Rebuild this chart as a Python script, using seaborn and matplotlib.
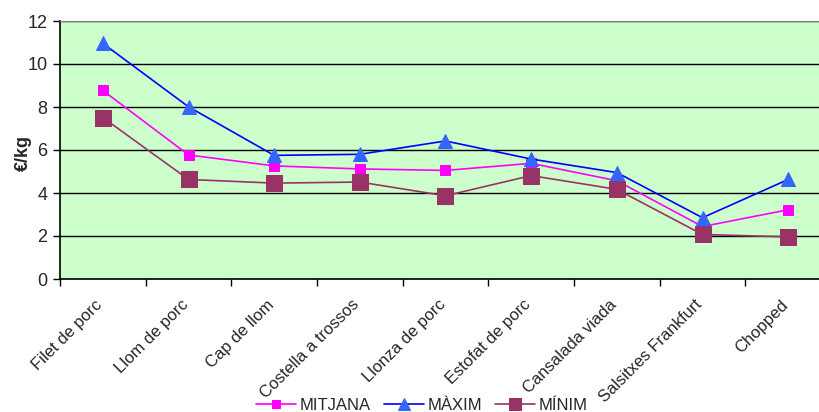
import matplotlib
matplotlib.use("Agg")
import matplotlib.pyplot as plt
import matplotlib.transforms as mtrans
import numpy as np
import pandas as pd
import seaborn as sns

# data (EUR/kg)
products = ["Filet de porc", "Llom de porc", "Cap de llom", "Costella a trossos",
            "Llonza de porc", "Estofat de porc", "Cansalada viada",
            "Salsitxes Frankfurt", "Chopped"]
mitjana = [8.77, 5.77, 5.26, 5.12, 5.05, 5.38, 4.57, 2.44, 3.22]
maxim = [10.96, 8.01, 5.75, 5.80, 6.42, 5.58, 4.95, 2.85, 4.63]
minim = [7.51, 4.63, 4.46, 4.51, 3.87, 4.81, 4.17, 2.07, 1.96]

series_names = ["MITJANA", "MÀXIM", "MÍNIM"]
line_colors = ["#FF00FF", "#0000FF", "#993366"]
marker_colors = ["#FF00FF", "#3366FF", "#993366"]
markers = ["s", "^", "s"]
marker_sizes = [7, 10, 11]

sns.set_style("white")
plt.rcParams["font.family"] = ["Liberation Sans", "DejaVu Sans"]

df = pd.DataFrame({"producte": products, "MITJANA": mitjana,
                   "MÀXIM": maxim, "MÍNIM": minim})
df["pos"] = np.arange(len(products))

fig = plt.figure(figsize=(8.19, 4.12), dpi=100)
ax = fig.add_axes([60 / 819, 1 - 279 / 412, 771 / 819, 258 / 412])
ax.set_facecolor("#CCFFCC")

for name, lc, mc, mk, ms in zip(series_names, line_colors, marker_colors,
                                markers, marker_sizes):
    sns.lineplot(data=df, x="pos", y=name, ax=ax, color=lc, linewidth=1.2,
                 marker=mk, markersize=ms, markerfacecolor=mc,
                 markeredgecolor=mc, label=name, zorder=3)

ax.set_xlim(-0.5, len(products) - 0.5)
ax.set_ylim(0, 12)
ax.set_yticks(np.arange(0, 13, 2))
ax.grid(axis="y", color="black", linewidth=1.0, zorder=1)
ax.set_axisbelow(True)

# category labels between boundary tick marks
ax.set_xticks(np.arange(len(products)))
ax.set_xticks(np.arange(-0.5, len(products), 1), minor=True)
ax.tick_params(axis="x", which="major", length=0, pad=13)
ax.tick_params(axis="x", which="minor", length=5, width=1, color="black",
               direction="out")
ax.tick_params(axis="y", length=5, width=1, color="black", direction="out",
               labelsize=13, pad=4)
ax.xaxis.set_tick_params(which="minor", bottom=True)
ax.yaxis.set_tick_params(left=True)
ax.set_xticklabels(products, rotation=45, ha="right", rotation_mode="anchor",
                   fontsize=12)
shift = mtrans.ScaledTranslation(-8 / 100, 0, fig.dpi_scale_trans)
for lab in ax.get_xticklabels():
    lab.set_transform(lab.get_transform() + shift)

for side in ["left", "bottom"]:
    ax.spines[side].set_color("black")
    ax.spines[side].set_linewidth(1.2)
ax.spines["top"].set_color("#808080")
ax.spines["right"].set_visible(False)

ax.set_xlabel("")
ax.set_ylabel("€/kg", fontsize=13, fontweight="bold")
ax.yaxis.set_label_coords(-0.036, 0.49)

handles, labels = ax.get_legend_handles_labels()
ax.legend(handles, labels, loc="center", bbox_to_anchor=(422 / 819, 7 / 412),
          bbox_transform=fig.transFigure, ncol=3, frameon=False, fontsize=12,
          handlelength=2.4, handletextpad=0.2, columnspacing=0.8,
          borderpad=0, markerscale=0.85)

fig.savefig("out.png", dpi=100)
